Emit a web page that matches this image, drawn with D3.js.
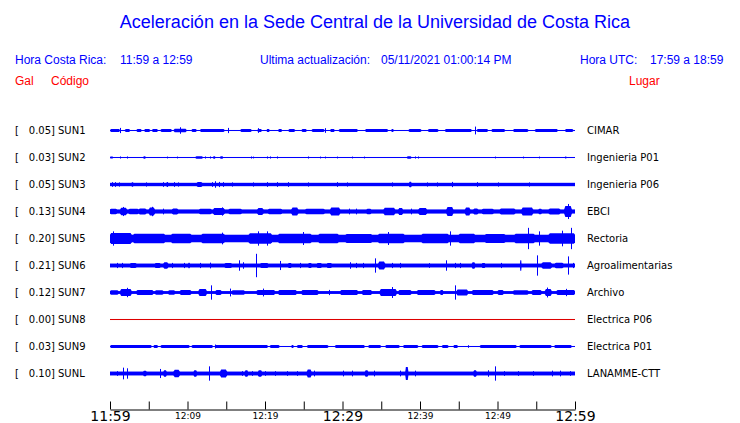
<!DOCTYPE html>
<html>
<head>
<meta charset="utf-8">
<script src="https://cdn.jsdelivr.net/npm/d3@7"></script>
<style>
  body { margin: 0; background: #fff; }
  svg { display: block; }
</style>
</head>
<body>
<div id="chart"></div>
<script>
// Station codes, peak values (Gal) and places
var codes = ["SUN1", "SUN2", "SUN3", "SUN4", "SUN5", "SUN6", "SUN7", "SUN8", "SUN9", "SUNL"];
var gals = ["0.05", "0.03", "0.05", "0.13", "0.20", "0.21", "0.12", "0.00", "0.03", "0.10"];
var places = ["CIMAR", "Ingenieria P01", "Ingenieria P06", "EBCI", "Rectoria",
              "Agroalimentarias", "Archivo", "Electrica P06", "Electrica P01", "LANAMME-CTT"];

// background noise level of each trace (fraction of trace full scale)
var baseAmp = [0.04, 0.04, 0.13, 0.16, 0.29, 0.15, 0.11, 0.04, 0.04, 0.15];

// bursts of shaking: [start minute, end minute, amplitude]; start == end is a single spike
var sun1Events = [[0, 1.3, 0.12], [1.3, 1.3, 0.2], [1.9, 2.6, 0.12], [3.4, 4.1, 0.12], [4.4, 5.2, 0.12],
  [5.4, 6.2, 0.12], [6.5, 8.0, 0.12], [8.2, 9.9, 0.13], [9.0, 9.0, 0.25], [10.5, 11.2, 0.12],
  [11.6, 14.8, 0.12], [15.2, 15.2, 0.2], [16.8, 18.3, 0.12], [19.0, 19.6, 0.12], [19.1, 19.1, 0.18],
  [20.2, 20.6, 0.12], [21.7, 22.2, 0.12], [23.0, 23.9, 0.12], [24.7, 25.4, 0.12], [26.0, 27.7, 0.12],
  [27.7, 27.7, 0.18], [28.4, 29.0, 0.12], [29.5, 32.0, 0.11], [32.9, 35.9, 0.11], [36.3, 36.6, 0.12],
  [38.5, 40.2, 0.12], [41.0, 42.4, 0.12], [43.2, 46.7, 0.11], [47.1, 47.1, 0.3], [47.3, 48.8, 0.12],
  [49.2, 51.0, 0.11], [52.0, 54.0, 0.12], [54.8, 57.8, 0.11], [58.7, 59.8, 0.12]];
var sun2Events = [[0, 0.4, 0.08], [1.3, 1.3, 0.08], [2.2, 2.2, 0.08], [4.3, 4.6, 0.1], [7.3, 7.3, 0.07],
  [8.7, 8.7, 0.07], [11.0, 12.0, 0.1], [12.3, 12.3, 0.08], [12.9, 12.9, 0.08], [13.3, 13.6, 0.1],
  [14.2, 14.6, 0.1], [18.2, 18.2, 0.08], [18.5, 18.5, 0.07], [20.2, 20.2, 0.08], [20.6, 20.6, 0.08],
  [21.6, 21.6, 0.08], [25.6, 25.6, 0.08], [27.1, 27.1, 0.07], [27.7, 27.7, 0.07], [29.3, 29.3, 0.07],
  [31.2, 31.2, 0.07], [32.8, 32.8, 0.07], [38.3, 38.9, 0.1], [39.4, 39.4, 0.08], [39.7, 39.7, 0.08],
  [49.7, 49.7, 0.07], [53.3, 53.3, 0.07], [55.3, 55.3, 0.07], [58.7, 58.9, 0.08]];
var sun3Events = [[0.2, 0.2, 0.18], [0.6, 0.6, 0.18], [1.1, 1.1, 0.16], [2.8, 3.0, 0.18], [4.6, 4.6, 0.16],
  [6.8, 6.8, 0.18], [7.3, 7.5, 0.2], [8.2, 8.2, 0.18], [8.8, 8.8, 0.16], [11.2, 11.9, 0.2],
  [13.2, 13.2, 0.18], [13.5, 13.5, 0.25], [14.0, 14.0, 0.2], [14.6, 14.6, 0.18], [15.7, 15.7, 0.16],
  [18.5, 18.5, 0.16], [20.2, 20.2, 0.18], [21.6, 21.6, 0.18], [23.0, 23.0, 0.18], [25.6, 25.6, 0.16],
  [29.3, 29.3, 0.18], [30.6, 30.6, 0.16], [36.4, 36.4, 0.16], [38.6, 38.9, 0.22], [40.9, 40.9, 0.16],
  [42.2, 42.2, 0.16], [44.1, 44.1, 0.2], [47.3, 47.3, 0.18], [50.0, 50.0, 0.16], [54.0, 54.0, 0.16]];
var sun4Events = [[0, 0.9, 0.22], [1.3, 2.2, 0.28], [1.7, 1.7, 0.35], [2.4, 3.7, 0.22], [3.7, 4.7, 0.24],
  [5.0, 5.8, 0.3], [5.4, 5.4, 0.36], [6.9, 6.9, 0.22], [8.0, 8.8, 0.24], [11.5, 13.1, 0.22],
  [13.3, 14.8, 0.26], [14.5, 14.5, 0.32], [15.3, 17.0, 0.22], [19.0, 19.8, 0.26], [20.4, 22.2, 0.22],
  [23.4, 24.3, 0.3], [25.2, 27.7, 0.22], [28.4, 29.7, 0.3], [30.8, 30.8, 0.22], [31.8, 31.8, 0.22],
  [33.1, 33.7, 0.22], [35.3, 36.8, 0.28], [37.2, 37.8, 0.26], [38.9, 38.9, 0.22], [39.8, 40.9, 0.27],
  [43.4, 44.3, 0.35], [45.8, 46.5, 0.3], [46.9, 47.5, 0.24], [48.0, 49.5, 0.22], [50.3, 52.3, 0.24],
  [53.1, 54.6, 0.3], [55.3, 55.7, 0.22], [56.6, 58.1, 0.24], [58.6, 59.6, 0.42], [59.1, 59.1, 0.58]];
var sun5Events = [[0, 2.8, 0.42], [0.4, 0.4, 0.55], [3.0, 7.1, 0.36], [7.9, 10.5, 0.36], [11.8, 14.8, 0.37],
  [14.4, 14.4, 0.45], [17.9, 20.9, 0.4], [19.1, 19.1, 0.55], [20.2, 20.2, 0.55], [21.7, 26.0, 0.36],
  [24.9, 24.9, 0.5], [26.9, 29.5, 0.36], [30.4, 33.8, 0.34], [34.6, 38.0, 0.37], [35.9, 35.9, 0.5],
  [40.2, 43.7, 0.36], [43.9, 43.9, 0.55], [45.0, 47.1, 0.37], [48.4, 51.0, 0.34], [52.2, 54.8, 0.36],
  [53.9, 53.9, 0.82], [55.3, 55.3, 0.55], [56.6, 60, 0.4], [58.3, 58.3, 0.6], [59.5, 59.5, 0.82]];
var sun6Events = [[0.9, 0.9, 0.2], [1.5, 1.5, 0.2], [2.6, 3.4, 0.2], [5.8, 6.5, 0.2], [6.9, 7.5, 0.25],
  [8.0, 8.0, 0.2], [9.5, 9.5, 0.2], [10.1, 10.3, 0.22], [11.6, 11.6, 0.2], [12.9, 12.9, 0.22],
  [14.8, 15.7, 0.2], [16.6, 16.6, 0.4], [17.2, 17.2, 0.25], [18.8, 18.8, 0.9], [19.4, 20.4, 0.2],
  [21.9, 21.9, 0.35], [23.0, 23.4, 0.2], [24.5, 24.5, 0.2], [25.6, 26.0, 0.2], [26.7, 27.3, 0.2],
  [28.0, 28.6, 0.2], [31.0, 31.0, 0.25], [31.8, 31.8, 0.2], [32.7, 32.7, 0.2], [34.2, 34.2, 0.55],
  [34.6, 35.5, 0.3], [36.4, 36.4, 0.2], [37.4, 37.4, 0.2], [41.1, 41.1, 0.18], [43.4, 43.4, 0.4],
  [44.5, 44.5, 0.2], [45.1, 45.1, 0.2], [46.7, 47.1, 0.25], [48.0, 48.4, 0.2], [50.5, 50.5, 0.2],
  [52.9, 53.1, 0.4], [55.1, 55.1, 0.78], [55.7, 57.0, 0.25], [57.4, 58.5, 0.22], [59.1, 59.1, 0.7],
  [59.8, 59.8, 0.2]];
var sun7Events = [[0, 1.1, 0.17], [1.3, 2.8, 0.26], [2.2, 2.2, 0.36], [3.4, 5.6, 0.19], [5.8, 6.9, 0.18],
  [7.5, 8.4, 0.17], [9.0, 10.5, 0.19], [11.4, 12.5, 0.26], [13.0, 13.0, 0.55], [13.6, 14.4, 0.19],
  [15.5, 15.5, 0.3], [15.7, 17.4, 0.17], [18.9, 21.3, 0.19], [19.7, 19.7, 0.3], [21.7, 24.1, 0.19],
  [24.7, 26.9, 0.2], [28.2, 28.2, 0.2], [29.7, 32.0, 0.2], [32.5, 33.8, 0.19], [34.8, 37.0, 0.26],
  [36.4, 36.4, 0.42], [37.2, 38.9, 0.19], [39.6, 42.0, 0.19], [42.6, 43.0, 0.19], [44.5, 44.5, 0.55],
  [44.7, 46.2, 0.23], [46.7, 49.5, 0.19], [50.0, 50.8, 0.19], [52.0, 54.0, 0.18], [54.4, 55.7, 0.19],
  [56.1, 57.0, 0.27], [56.4, 56.4, 0.38], [57.6, 60, 0.19], [58.9, 58.9, 0.28]];
var sun8Events = [];
var sun9Events = [[0, 5.4, 0.11], [5.6, 6.2, 0.11], [6.5, 10.3, 0.11], [10.5, 13.3, 0.11], [13.5, 20.4, 0.11],
  [13.5, 13.5, 0.15], [20.6, 21.9, 0.11], [23.4, 23.7, 0.11], [24.1, 24.9, 0.11], [25.4, 28.2, 0.11],
  [29.0, 32.9, 0.11], [33.3, 35.0, 0.11], [35.5, 37.4, 0.11], [37.8, 39.8, 0.11], [40.2, 42.4, 0.11],
  [42.8, 43.7, 0.11], [44.3, 44.9, 0.11], [46.2, 46.2, 0.1], [47.7, 52.5, 0.11], [52.8, 57.0, 0.11],
  [57.3, 59.6, 0.11]];
var sunlEvents = [[0.9, 0.9, 0.18], [1.7, 1.7, 0.45], [2.2, 2.2, 0.4], [4.3, 4.7, 0.22], [6.5, 6.5, 0.35],
  [6.9, 7.3, 0.25], [8.2, 9.0, 0.28], [10.8, 11.2, 0.25], [12.8, 12.8, 0.55], [14.2, 15.1, 0.3],
  [17.0, 17.0, 0.18], [17.4, 17.8, 0.25], [18.3, 18.3, 0.18], [19.1, 19.6, 0.25], [20.0, 20.0, 0.18],
  [21.3, 21.3, 0.18], [22.8, 22.8, 0.18], [24.1, 24.1, 0.18], [25.4, 26.0, 0.3], [26.3, 26.3, 0.22],
  [30.1, 30.1, 0.22], [31.2, 31.2, 0.22], [32.9, 33.3, 0.25], [34.0, 34.0, 0.22], [37.4, 37.4, 0.22],
  [38.1, 38.5, 0.5], [39.4, 39.4, 0.22], [46.9, 47.3, 0.25], [48.8, 48.8, 0.25], [49.7, 49.7, 0.55],
  [50.8, 50.8, 0.18], [52.7, 52.7, 0.18], [54.6, 54.6, 0.18], [57.0, 57.0, 0.22], [58.1, 58.1, 0.22],
  [59.4, 59.4, 0.18]];
var events = [sun1Events, sun2Events, sun3Events, sun4Events, sun5Events,
              sun6Events, sun7Events, sun8Events, sun9Events, sunlEvents];

// time axis: 11:59 to 12:59, a tick every 5 minutes
var tickMinutes = [0, 5, 10, 15, 20, 25, 30, 35, 40, 45, 50, 55, 60];
var tickLabels = ["11:59", "", "12:09", "", "12:19", "", "12:29", "", "12:39", "", "12:49", "", "12:59"];
var bigLabels = ["11:59", "12:29", "12:59"];

var width = 740, height = 423;
var blue = "#0000ff", red = "#ff0000";

var svg = d3.select("#chart").append("svg")
  .attr("width", width)
  .attr("height", height);

// Scales
var xScale = d3.scaleLinear().domain([0, 60]).range([110, 575]);
var yRow = d3.scaleBand().domain(codes).range([117, 387]);
var amp = d3.scaleLinear().domain([0, 1]).range([0, 13]);

// Headings
svg.append("text")
  .attr("x", 375).attr("y", 28)
  .attr("text-anchor", "middle")
  .attr("font-family", "Liberation Sans, Arial, sans-serif")
  .attr("font-size", 18)
  .attr("fill", blue)
  .text("Aceleración en la Sede Central de la Universidad de Costa Rica");

var head = [
  {x: 15, text: "Hora Costa Rica:", fill: blue, y: 64},
  {x: 120, text: "11:59 a 12:59", fill: blue, y: 64},
  {x: 260, text: "Ultima actualización:", fill: blue, y: 64},
  {x: 381, text: "05/11/2021 01:00:14 PM", fill: blue, y: 64},
  {x: 580, text: "Hora UTC:", fill: blue, y: 64},
  {x: 650, text: "17:59 a 18:59", fill: blue, y: 64},
  {x: 15, text: "Gal", fill: red, y: 85},
  {x: 51, text: "Código", fill: red, y: 85},
  {x: 629, text: "Lugar", fill: red, y: 85}
];
svg.selectAll("text.head").data(head).enter()
  .append("text")
  .attr("class", "head")
  .attr("x", d => d.x).attr("y", d => d.y)
  .attr("font-family", "Liberation Sans, Arial, sans-serif")
  .attr("font-size", 12)
  .attr("fill", d => d.fill)
  .text(d => d.text);

// One row per station
var rows = svg.selectAll("g.row").data(codes).enter()
  .append("g")
  .attr("class", "row")
  .attr("transform", d => `translate(0, ${yRow(d) + yRow.bandwidth() / 2})`);

var labelFont = "DejaVu Sans, sans-serif";

rows.append("text")
  .attr("x", 15).attr("y", 3.5)
  .attr("font-family", labelFont).attr("font-size", 10)
  .text("[");

rows.append("text")
  .attr("x", 55).attr("y", 3.5)
  .attr("text-anchor", "end")
  .attr("font-family", labelFont).attr("font-size", 10)
  .text((d, i) => gals[i] + "]");

rows.append("text")
  .attr("x", 58).attr("y", 3.5)
  .attr("font-family", labelFont).attr("font-size", 10)
  .text(d => d);

rows.append("text")
  .attr("x", 587).attr("y", 3.5)
  .attr("font-family", labelFont).attr("font-size", 10)
  .text((d, i) => places[i]);

// background band of each trace
rows.append("rect")
  .attr("x", xScale(0))
  .attr("width", xScale(60) - xScale(0))
  .attr("y", (d, i) => -Math.max(amp(baseAmp[i]), 0.5))
  .attr("height", (d, i) => 2 * Math.max(amp(baseAmp[i]), 0.5))
  .attr("fill", (d, i) => gals[i] === "0.00" ? "#dd0000" : blue);

// bursts drawn as envelopes with short tapered ends, spikes as 1px strokes
var envelope = d3.area()
  .x(p => xScale(p[0]))
  .y0(p => -amp(p[1]))
  .y1(p => amp(p[1]));

rows.each(function(d, i) {
  var g = d3.select(this);
  var base = baseAmp[i];
  var bursts = events[i].filter(e => e[1] > e[0]);
  var spikes = events[i].filter(e => e[1] === e[0]);

  g.selectAll("path.burst").data(bursts).enter()
    .append("path")
    .attr("class", "burst")
    .attr("d", e => {
      var t = Math.min((e[1] - e[0]) * 0.2, 0.15);
      return envelope([[e[0], base], [e[0] + t, e[2]], [e[1] - t, e[2]], [e[1], base]]);
    })
    .attr("fill", blue);

  g.selectAll("rect.spike").data(spikes).enter()
    .append("rect")
    .attr("class", "spike")
    .attr("x", e => Math.round(xScale(e[0])))
    .attr("width", 1)
    .attr("y", e => -amp(e[2]))
    .attr("height", e => 2 * amp(e[2]))
    .attr("fill", blue);
});

// Time axis
var xAxis = d3.axisBottom(xScale)
  .tickValues(tickMinutes)
  .tickSizeInner(-8)
  .tickSizeOuter(0)
  .tickPadding(0)
  .tickFormat((d, i) => tickLabels[i]);

var axisG = svg.append("g")
  .attr("transform", "translate(0, 409.5)")
  .call(xAxis);

var isBig = d => bigLabels.indexOf(tickLabels[tickMinutes.indexOf(d)]) >= 0;

axisG.select(".domain").attr("stroke", "#000");
axisG.selectAll(".tick line").attr("stroke", "#000");
axisG.selectAll(".tick text")
  .attr("fill", "#000")
  .attr("font-family", labelFont)
  .attr("font-size", d => isBig(d) ? 14 : 9)
  .attr("dy", d => isBig(d) ? "11px" : "9px");
</script>
</body>
</html>
